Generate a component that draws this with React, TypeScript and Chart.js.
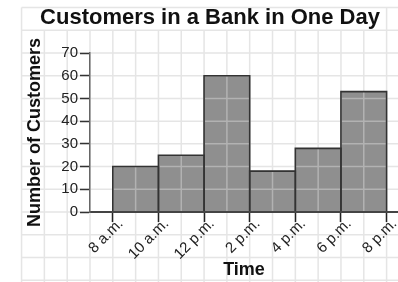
import React, { useEffect, useRef } from "react";
import { Chart, registerables } from "chart.js";

Chart.register(...registerables);

// ---- data ----
const binStarts = [8, 10, 12, 14, 16, 18];
const binWidth = 2;
const customers = [20, 25, 60, 18, 28, 53];
const tickHours = [8, 10, 12, 14, 16, 18, 20];
const tickLabels = ["8 a.m.", "10 a.m.", "12 p.m.", "2 p.m.", "4 p.m.", "6 p.m.", "8 p.m."];
const chartTitle = "Customers in a Bank in One Day";
const xTitle = "Time";
const yTitle = "Number of Customers";

const FONT = '"Liberation Sans", Arial, Helvetica, sans-serif';
const TITLE_SIZE = 22;

const paperPlugin = {
  id: "paper",
  afterDatasetsDraw(chart: any) {
    const { ctx } = chart;
    const xs = chart.scales.x;
    const ys = chart.scales.y;
    const W = chart.width;
    const H = chart.height;
    const xMin = xs.min;
    const yMax = ys.max;
    const paperLeft = xs.getPixelForValue(xMin - 3);
    const paperTop = ys.getPixelForValue(yMax + 20);
    const titleRowBottom = ys.getPixelForValue(yMax + 10);

    // title box extents
    ctx.save();
    ctx.font = "bold " + TITLE_SIZE + "px " + FONT;
    const tw = ctx.measureText(chartTitle).width;
    ctx.restore();
    const tb = chart.titleBlock;
    const tcx = tb ? (tb.left + tb.right) / 2 : W / 2;
    const boxL = tcx - tw / 2 - 4;
    const boxR = tcx + tw / 2 + 4;

    ctx.save();
    ctx.strokeStyle = "rgba(207,207,207,0.55)";
    ctx.lineWidth = 1.5;
    ctx.beginPath();
    for (let v = xMin - 3; ; v += 1) {
      const px = xs.getPixelForValue(v);
      if (px > W + 1) break;
      const top = px > boxL && px < boxR ? titleRowBottom : paperTop;
      ctx.moveTo(px, top);
      ctx.lineTo(px, H);
    }
    for (let v = yMax + 20; ; v -= 10) {
      const py = ys.getPixelForValue(v);
      if (py > H + 1) break;
      ctx.moveTo(paperLeft, py);
      ctx.lineTo(W, py);
    }
    ctx.stroke();

    // bar outlines, from the library's bar elements, on top of the paper grid
    const meta = chart.getDatasetMeta(0);
    ctx.strokeStyle = "#333333";
    ctx.lineWidth = 1.6;
    ctx.lineJoin = "miter";
    meta.data.forEach((el: any) => {
      const { x, y, base, width } = el.getProps(["x", "y", "base", "width"], true);
      const l = x - width / 2;
      const r = x + width / 2;
      ctx.beginPath();
      ctx.moveTo(l, base);
      ctx.lineTo(l, y);
      ctx.lineTo(r, y);
      ctx.lineTo(r, base);
      ctx.stroke();
    });
    ctx.restore();
  },
};

export default function App() {
  const ref = useRef<HTMLCanvasElement | null>(null);

  useEffect(() => {
    document.body.style.margin = "0";
    if (!ref.current) return;
    const chart = new Chart(ref.current, {
      type: "bar",
      data: {
        datasets: [
          {
            data: binStarts.map((s, i) => ({ x: s + binWidth / 2, y: customers[i] })),
            backgroundColor: "#8f8f8f",
            borderWidth: 0,
            barPercentage: 1,
            categoryPercentage: 1,
          },
        ],
      },
      options: {
        responsive: false,
        animation: false,
        devicePixelRatio: 1,
        layout: { padding: { left: 22, right: 0, top: 0, bottom: 0 } },
        plugins: {
          legend: { display: false },
          tooltip: { enabled: false },
          title: {
            display: true,
            text: chartTitle,
            color: "#111",
            font: { family: FONT, size: TITLE_SIZE, weight: "bold" },
            padding: { top: 5, bottom: 21.6 },
          },
        },
        scales: {
          x: {
            type: "linear",
            min: 7,
            max: 20.5,
            offset: false,
            afterBuildTicks: (s: any) => {
              s.ticks = tickHours.map((v) => ({ value: v }));
            },
            afterFit: (s: any) => {
              s.height = 70;
            },
            ticks: {
              autoSkip: false,
              minRotation: 45,
              maxRotation: 45,
              padding: -7,
              labelOffset: 8,
              color: "#222",
              font: { family: FONT, size: 15 },
              callback: (v: any) => {
                const i = tickHours.indexOf(Number(v));
                return i >= 0 ? tickLabels[i] : "";
              },
              z: 1,
            },
            grid: {
              offset: false,
              drawOnChartArea: false,
              drawTicks: true,
              tickLength: 10,
              tickColor: "#222",
              tickWidth: 1.5,
              z: 1,
            },
            border: { display: true, color: "#444", width: 2, z: 1 },
            title: {
              display: true,
              text: xTitle,
              color: "#111",
              font: { family: FONT, size: 18, weight: "bold" },
              padding: { top: 0, bottom: 1 },
            },
          } as any,
          y: {
            min: 0,
            max: 70,
            afterFit: (s: any) => {
              s.width = 68;
            },
            ticks: {
              stepSize: 10,
              padding: 2,
              color: "#222",
              font: { family: FONT, size: 15 },
              z: 1,
            },
            grid: {
              drawOnChartArea: false,
              drawTicks: true,
              tickLength: 10,
              tickColor: "#333",
              tickWidth: 1.5,
              z: 1,
            },
            border: { display: true, color: "#666", width: 1.5, z: 1 },
            title: {
              display: true,
              text: yTitle,
              color: "#111",
              font: { family: FONT, size: 18, weight: "bold" },
              padding: { top: 2, bottom: 0 },
            },
          } as any,
        },
      },
      plugins: [paperPlugin],
    });
    return () => chart.destroy();
  }, []);

  return (
    <div style={{ width: 398, height: 282 }}>
      <canvas ref={ref} width={398} height={282} style={{ display: "block" }} />
    </div>
  );
}
